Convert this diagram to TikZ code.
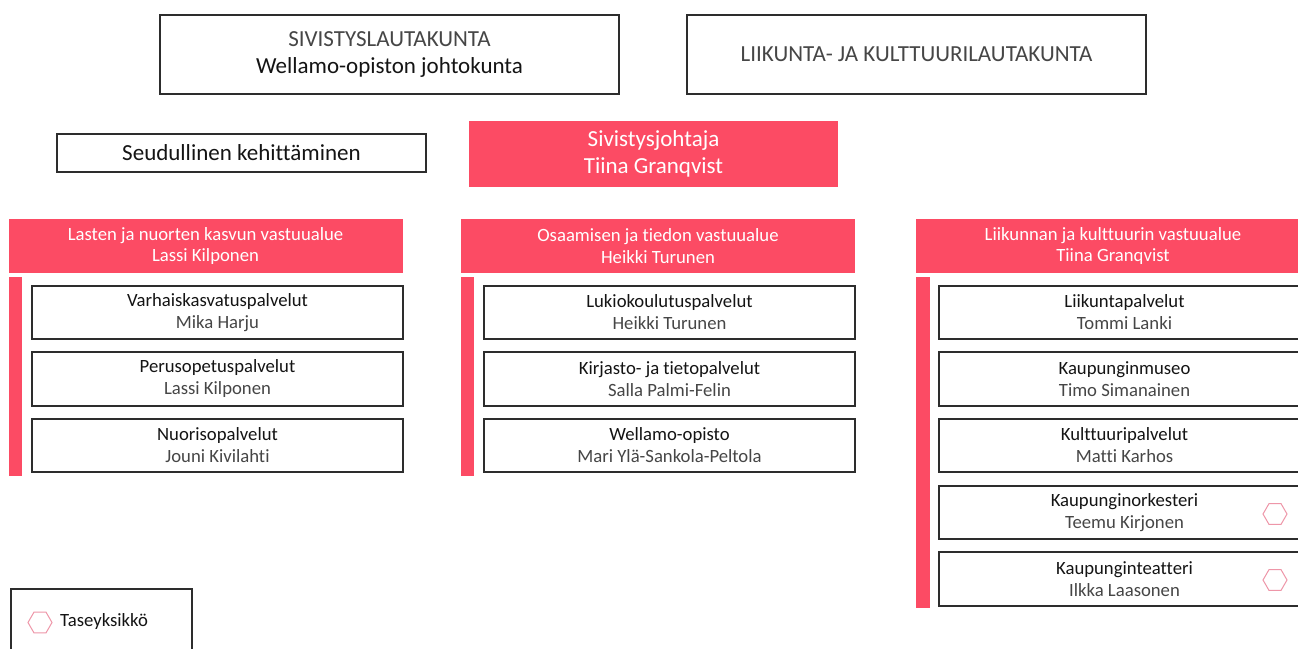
\documentclass[tikz,border=0pt]{standalone}
\usepackage{fontspec}
\setmainfont{Carlito}[Ligatures=NoCommon]
\usetikzlibrary{shapes.geometric}
\definecolor{brand}{RGB}{252,75,100}
\definecolor{frame}{RGB}{45,45,45}
\definecolor{hexc}{RGB}{238,150,168}
\definecolor{subgray}{RGB}{70,70,70}
\definecolor{maintext}{RGB}{20,20,20}
\tikzset{
  wbox/.style={draw=frame, line width=1.3pt, fill=white, inner sep=0pt, align=center, text=maintext},
  rbox/.style={fill=brand, inner sep=0pt, align=center, text=white},
  topfont/.style={font=\fontsize{23}{27}\selectfont},
  hdrfont/.style={font=\fontsize{18.7}{21.6}\selectfont},
  subfont/.style={font=\fontsize{18.7}{22}\selectfont},
  subbox/.style={wbox, subfont, minimum width=371pt},
  hdrbox/.style={rbox, hdrfont, minimum width=394pt, minimum height=54pt},
  hexmark/.style={draw=hexc, line width=1pt, regular polygon, regular polygon sides=6, minimum size=24pt, inner sep=0pt},
}
\newcommand{\svc}[2]{#1\\\textcolor{subgray}{#2}}
\begin{document}
\begin{tikzpicture}[x=1pt,y=-1pt]
\useasboundingbox (0,0) rectangle (1298,648);
\clip (0,0) rectangle (1298,648);
\fill[white] (0,0) rectangle (1298,648);

% top boards
\node[wbox, topfont, minimum width=459pt, minimum height=79pt] (board1) at (389.5,54.5)
  {\textcolor{subgray}{SIVISTYSLAUTAKUNTA}\\Wellamo-opiston johtokunta};
\node[wbox, topfont, minimum width=459pt, minimum height=79pt] (board2) at (916.5,54.5)
  {\textcolor{subgray}{LIIKUNTA- JA KULTTUURILAUTAKUNTA}};

\node[wbox, topfont, minimum width=369pt, minimum height=38pt] (seud) at (241.5,153)
  {Seudullinen kehittäminen};
\node[rbox, topfont, minimum width=369pt, minimum height=66pt] (director) at (653.5,154)
  {Sivistysjohtaja\\Tiina Granqvist};

% area headers
\node[hdrbox] (area1) at (205.5,246) {Lasten ja nuorten kasvun vastuualue\\Lassi Kilponen};
\node[hdrbox] (area2) at (658,246) {Osaamisen ja tiedon vastuualue\\Heikki Turunen};
\node[hdrbox] (area3) at (1113,246) {Liikunnan ja kulttuurin vastuualue\\Tiina Granqvist};

% side bars
\fill[brand] (9,277) rectangle (22,476);
\fill[brand] (461,277) rectangle (474,476);
\fill[brand] (916,277) rectangle (930,608);

% column 1
\node[subbox, minimum height=53pt] (a1) at (217.5,312.5) {\svc{Varhaiskasvatuspalvelut}{Mika Harju}};
\node[subbox, minimum height=54pt] (a2) at (217.5,379) {\svc{Perusopetuspalvelut}{Lassi Kilponen}};
\node[subbox, minimum height=53pt] (a3) at (217.5,445.5) {\svc{Nuorisopalvelut}{Jouni Kivilahti}};

% column 2
\node[subbox, minimum height=53pt] (b1) at (669.5,312.5) {\svc{Lukiokoulutuspalvelut}{Heikki Turunen}};
\node[subbox, minimum height=54pt] (b2) at (669.5,379) {\svc{Kirjasto- ja tietopalvelut}{Salla Palmi-Felin}};
\node[subbox, minimum height=53pt] (b3) at (669.5,445.5) {\svc{Wellamo-opisto}{Mari Ylä-Sankola-Peltola}};

% column 3
\node[subbox, minimum height=53pt] (c1) at (1124.5,312.5) {\svc{Liikuntapalvelut}{Tommi Lanki}};
\node[subbox, minimum height=54pt] (c2) at (1124.5,379) {\svc{Kaupunginmuseo}{Timo Simanainen}};
\node[subbox, minimum height=53pt] (c3) at (1124.5,445.5) {\svc{Kulttuuripalvelut}{Matti Karhos}};
\node[subbox, minimum height=53pt] (c4) at (1124.5,512.5) {\svc{Kaupunginorkesteri}{Teemu Kirjonen}};
\node[subbox, minimum height=54pt] (c5) at (1124.5,579) {\svc{Kaupunginteatteri}{Ilkka Laasonen}};

\node[hexmark] (hex1) at (1275,514) {};
\node[hexmark] (hex2) at (1275,580) {};

% legend
\node[wbox, minimum width=181pt, minimum height=71pt] (legend) at (101.5,624.5) {};
\node[hexmark] (hexl) at (40,622.5) {};
\node[subfont, anchor=west, text=maintext, inner sep=0pt] (legtext) at (60,622) {Taseyksikkö};
\end{tikzpicture}
\end{document}
